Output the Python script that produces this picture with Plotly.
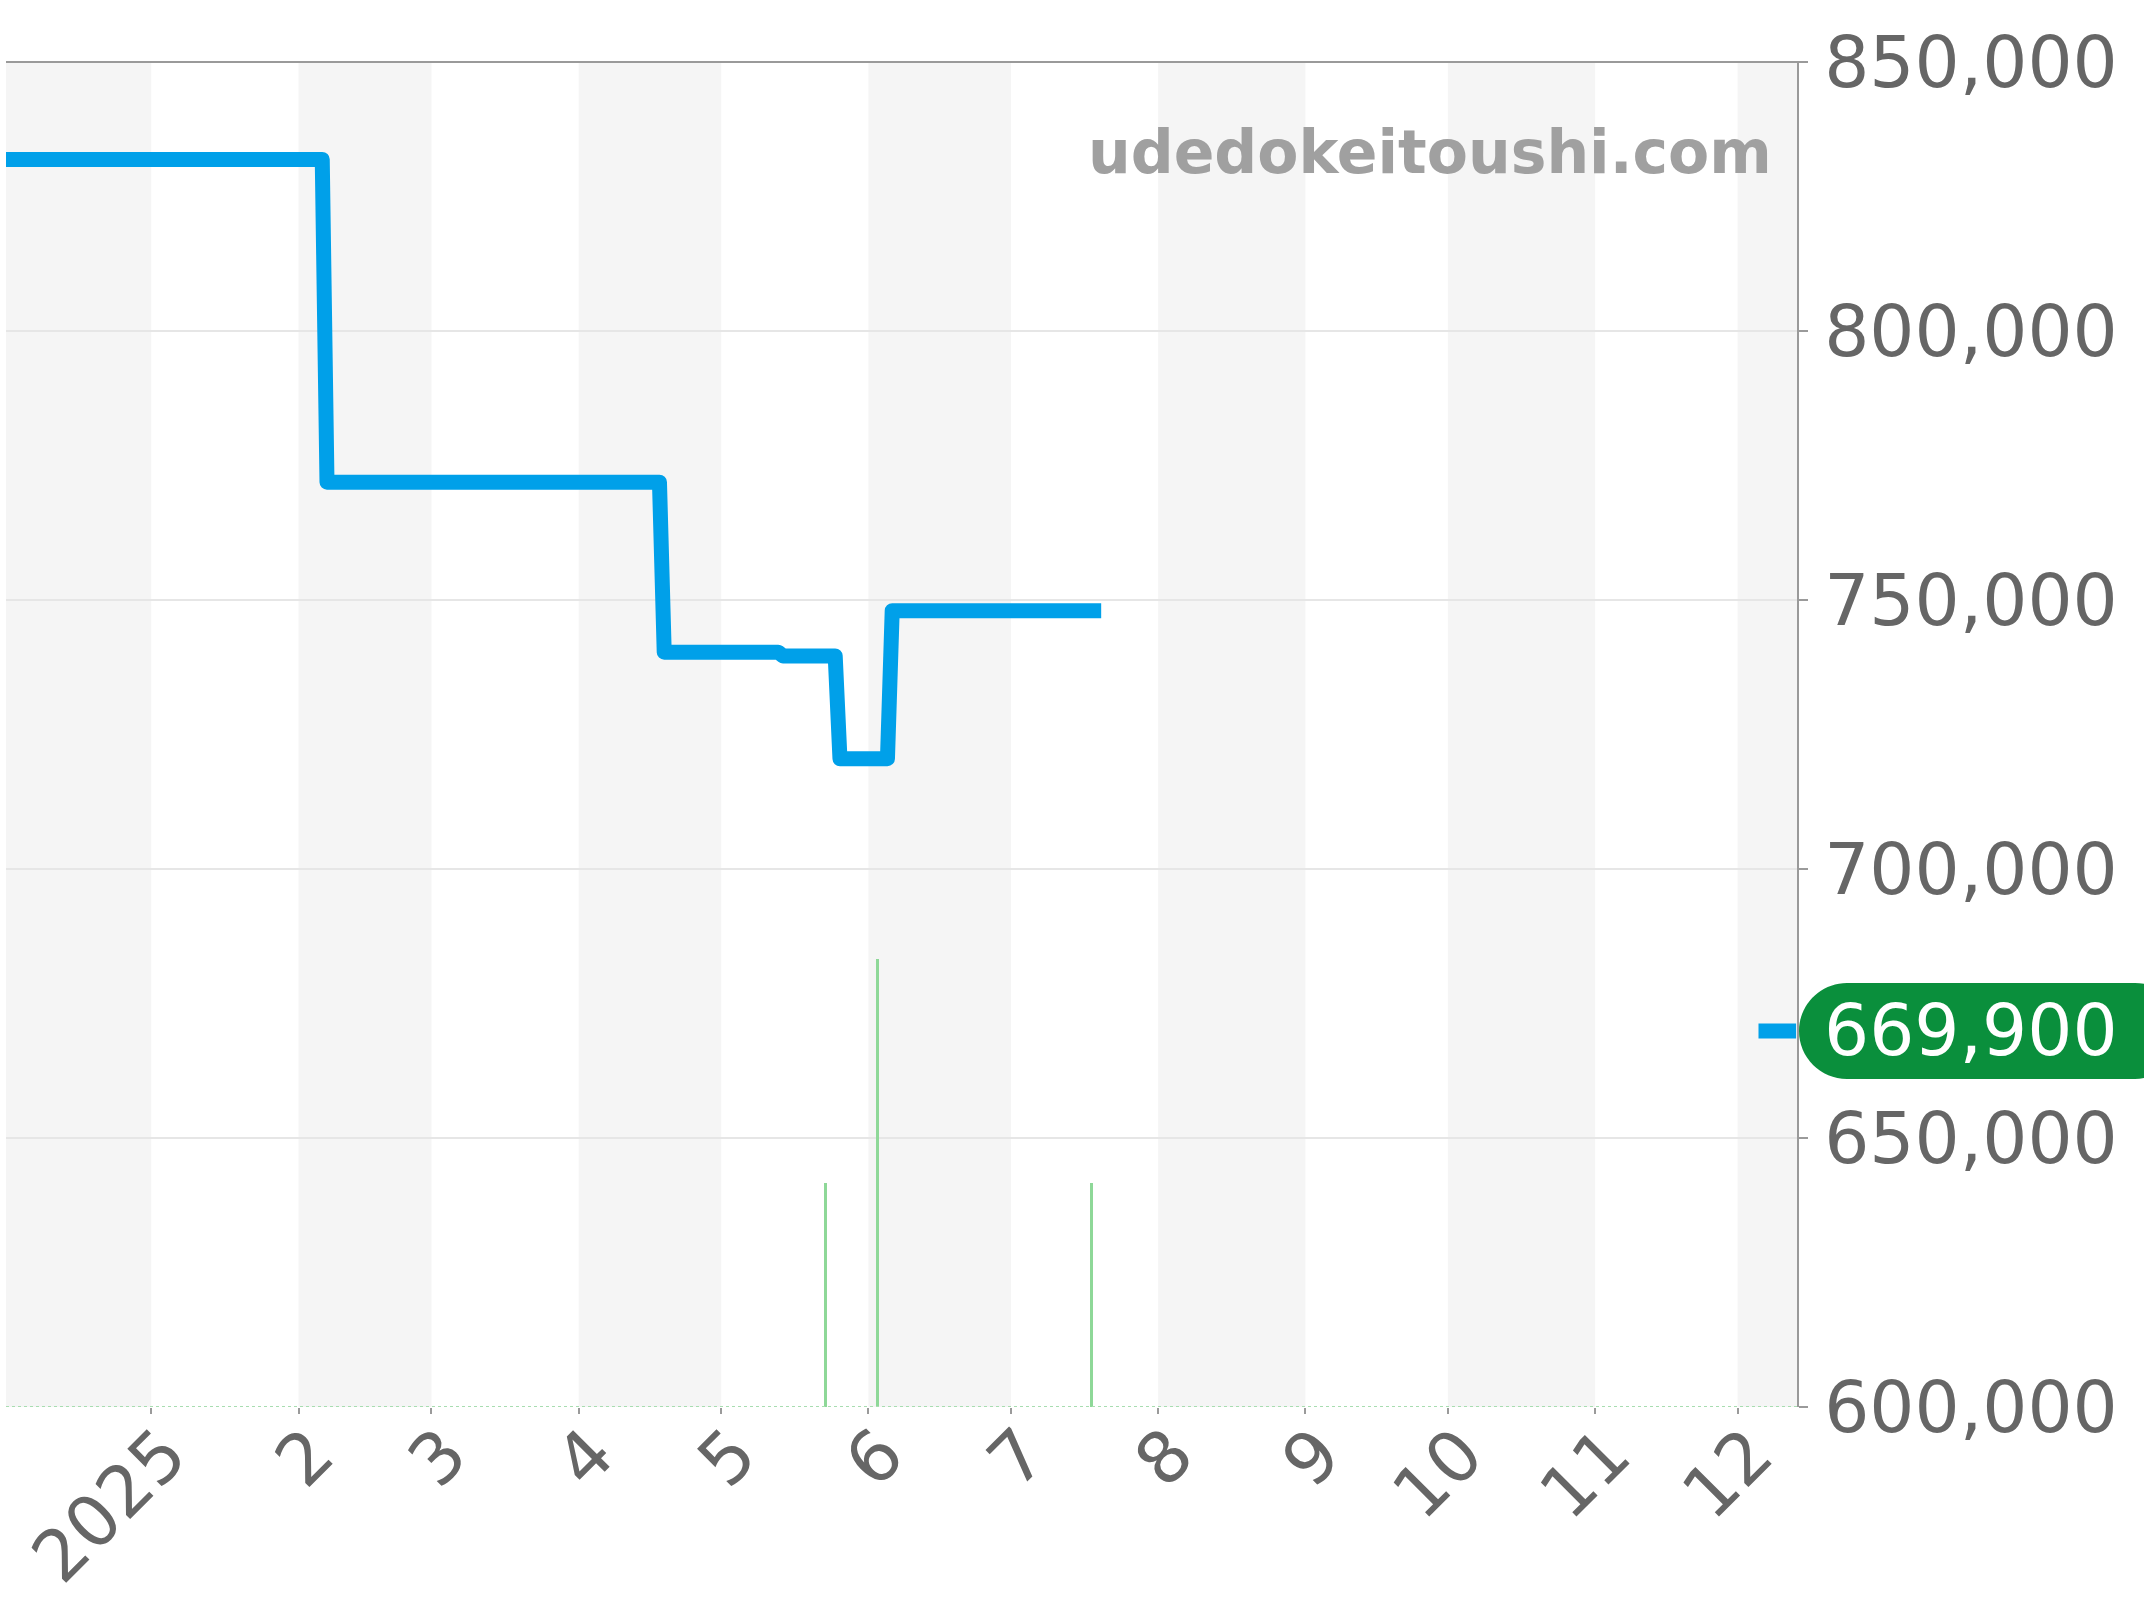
import plotly.graph_objects as go

# ---------------- data ----------------
price_dates = ["2024-11-15", "2025-02-06", "2025-02-07", "2025-04-18", "2025-04-19",
               "2025-05-13", "2025-05-14", "2025-05-25", "2025-05-26",
               "2025-06-05", "2025-06-06", "2025-07-20"]
price_values = [831900, 831900, 771900, 771900, 740300,
                740300, 739600, 739600, 720500,
                720500, 748000, 748000]

volume_dates = ["2025-05-23", "2025-06-03", "2025-07-18"]
volume_counts = [1, 2, 1]

current_price = 669900

tick_dates = ["2025-01-01", "2025-02-01", "2025-03-01", "2025-04-01", "2025-05-01",
              "2025-06-01", "2025-07-01", "2025-08-01", "2025-09-01", "2025-10-01",
              "2025-11-01", "2025-12-01"]
tick_labels = ["2025", "2", "3", "4", "5", "6", "7", "8", "9", "10", "11", "12"]

shaded_months = [("2024-12-01", "2025-01-01"), ("2025-02-01", "2025-03-01"),
                 ("2025-04-01", "2025-05-01"), ("2025-06-01", "2025-07-01"),
                 ("2025-08-01", "2025-09-01"), ("2025-10-01", "2025-11-01"),
                 ("2025-12-01", "2026-01-01")]

y_ticks = [600000, 650000, 700000, 750000, 800000, 850000]
x_range = ["2024-12-01 10:00", "2025-12-13 12:00"]
y_range = [600000, 850000]

watermark = "udedokeitoushi.com"

# ---------------- style ----------------
FONT = "DejaVu Sans"
TICK_COLOR = "#666666"
AXIS_GRAY = "#9a9a9a"
BLUE = "#00a0e9"
GREEN_BAR = "#8ed898"
PILL_GREEN = "#0a8f3c"

fig = go.Figure()

fig.add_trace(go.Bar(
    x=volume_dates, y=volume_counts, yaxis="y2",
    marker=dict(color=GREEN_BAR, line=dict(width=0)),
    width=0.65 * 86400000, showlegend=False, hoverinfo="skip",
))

fig.add_trace(go.Scatter(
    x=price_dates, y=price_values, mode="lines",
    line=dict(color=BLUE, width=15),
    showlegend=False, hoverinfo="skip",
))

shapes = []
for a, b in shaded_months:
    shapes.append(dict(type="rect", xref="x", yref="paper", x0=a, x1=b, y0=0, y1=1,
                       fillcolor="#f5f5f5", line=dict(width=0), layer="below"))

# top border line
shapes.append(dict(type="line", xref="paper", yref="paper", x0=0, x1=1.005, y0=1, y1=1,
                   line=dict(color=AXIS_GRAY, width=2)))
# dotted zero baseline of volume series
shapes.append(dict(type="line", xref="paper", yref="y2", x0=0, x1=1, y0=0, y1=0,
                   line=dict(color="#a8ddb0", width=2, dash="dot")))
# current price marker near the right axis
shapes.append(dict(type="line", xref="paper", yref="y", x0=0.9785, x1=0.9995,
                   y0=current_price, y1=current_price,
                   line=dict(color=BLUE, width=15)))
# rounded pill behind current price label
r = 48
k = 26.5
x0p, x1p = 2, 386
pill = (f"M {x0p + r},{r} L {x1p - r},{r} "
        f"C {x1p - r + k},{r} {x1p},{k} {x1p},0 "
        f"C {x1p},{-k} {x1p - r + k},{-r} {x1p - r},{-r} "
        f"L {x0p + r},{-r} "
        f"C {x0p + r - k},{-r} {x0p},{-k} {x0p},0 "
        f"C {x0p},{k} {x0p + r - k},{r} {x0p + r},{r} Z")
shapes.append(dict(type="path", xref="paper", yref="y",
                   xsizemode="pixel", ysizemode="pixel",
                   xanchor=1, yanchor=current_price,
                   path=pill, fillcolor=PILL_GREEN, line=dict(width=0),
                   layer="above"))

annotations = [
    dict(text=f"{current_price:,}", xref="paper", yref="y", x=1, y=current_price,
         xanchor="left", yanchor="middle", xshift=25, showarrow=False,
         font=dict(family=FONT, size=71, color="white")),
    dict(text=f"<b>{watermark}</b>", xref="paper", yref="paper", x=0.987, y=0.933,
         xanchor="right", yanchor="middle", showarrow=False,
         font=dict(family=FONT, size=60, color="#a0a0a0")),
]

fig.update_layout(
    width=2144, height=1600, autosize=False,
    margin=dict(l=6, r=347, t=62, b=193, pad=0),
    paper_bgcolor="white", plot_bgcolor="white",
    font=dict(family=FONT, color=TICK_COLOR),
    shapes=shapes, annotations=annotations,
    bargap=0,
    xaxis=dict(
        type="date", range=x_range, automargin=False,
        tickvals=tick_dates, ticktext=tick_labels, tickangle=-45,
        tickfont=dict(family=FONT, size=71, color=TICK_COLOR),
        ticks="outside", ticklen=6, tickwidth=2, tickcolor=AXIS_GRAY,
        ticklabelstandoff=-30, ticklabelshift=14,
        showgrid=False, zeroline=False, showline=False,
    ),
    yaxis=dict(
        side="right", range=y_range, tickvals=y_ticks, tickformat=",d",
        automargin=False,
        tickfont=dict(family=FONT, size=71, color=TICK_COLOR),
        ticks="outside", ticklen=9, tickwidth=2, tickcolor=AXIS_GRAY,
        ticklabelstandoff=2,
        showline=True, linecolor=AXIS_GRAY, linewidth=2,
        showgrid=True, gridcolor="#e6e6e6", gridwidth=1.5, zeroline=False,
    ),
    yaxis2=dict(overlaying="y", range=[0, 6], visible=False, fixedrange=True),
)

post = """
document.body.style.margin='0px';
document.querySelectorAll('.scatterlayer .js-line').forEach(function(p){
  p.style.strokeLinejoin='round';
});
"""
fig.write_html("out.html", config={"displayModeBar": False}, post_script=post)
